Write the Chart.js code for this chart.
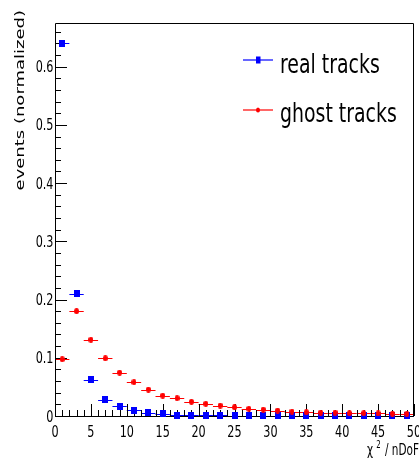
<!DOCTYPE html>
<html>
<head>
<meta charset="utf-8">
<script src="https://cdn.jsdelivr.net/npm/chart.js@4/dist/chart.umd.min.js"></script>
<style>
  html, body { margin: 0; padding: 0; background: #fff; }
  canvas { display: block; }
</style>
</head>
<body>
<canvas id="chart" width="419" height="459" style="width:419px;height:459px"></canvas>
<script>
// Histogram bins (chi2/nDoF), bin width 2
const binCenters = [1, 3, 5, 7, 9, 11, 13, 15, 17, 19, 21, 23, 25, 27, 29, 31, 33, 35, 37, 39, 41, 43, 45, 47, 49];
const binHalfWidth = 1;

// Normalized event fractions per bin
const realTracks = [0.640, 0.210, 0.0626, 0.0283, 0.0168, 0.0100, 0.0055, 0.0038, 0.0014, 0.0015, 0.0010, 0.0010, 0.0008,
                    0.0008, 0.0007, 0.0007, 0.0006, 0.0004, 0.0004, 0.0003, 0.0003, 0.0003, 0.0002, 0.0002, 0.0002];
const ghostTracks = [0.0974, 0.180, 0.131, 0.099, 0.0746, 0.058, 0.0455, 0.035, 0.0305, 0.0244, 0.021, 0.018, 0.015,
                     0.0124, 0.011, 0.0094, 0.0077, 0.0065, 0.006, 0.006, 0.0048, 0.0048, 0.0043, 0.0038, 0.0038];

// Axis tick values
const xMajorTicks = [0, 5, 10, 15, 20, 25, 30, 35, 40, 45, 50];
const yMajorTicks = [0, 0.1, 0.2, 0.3, 0.4, 0.5, 0.6];

const seriesNames = ['real tracks', 'ghost tracks'];
const axisTitleY = 'events (normalized)';

const BLUE = '#0000ff';
const RED = '#ff0000';
const FONT = "'DejaVu Sans', sans-serif";
const SQUEEZE = 0.7;   // horizontal compression of all lettering

function toPoints(values) {
  return binCenters.map((x, i) => ({ x: x, y: values[i] }));
}

// Small marker sprites (slightly taller than wide)
function makeMarker(kind, color, w, h) {
  const c = document.createElement('canvas');
  c.width = w; c.height = h;
  const g = c.getContext('2d');
  g.fillStyle = color;
  if (kind === 'rect') {
    g.fillRect(0, 0, w, h);
  } else {
    g.beginPath();
    g.ellipse(w / 2, h / 2, w / 2, h / 2, 0, 0, Math.PI * 2);
    g.fill();
  }
  return c;
}
const blueSquare = makeMarker('rect', BLUE, 6, 7);
const redDot = makeMarker('circle', RED, 5, 6);

function squeezedText(ctx, text, x, y, size, align, baseline) {
  ctx.save();
  ctx.translate(x, y);
  ctx.scale(SQUEEZE, 1);
  ctx.font = size + 'px ' + FONT;
  ctx.textAlign = align;
  ctx.textBaseline = baseline || 'alphabetic';
  ctx.fillText(text, 0, 0);
  const w = ctx.measureText(text).width * SQUEEZE;
  ctx.restore();
  return w;
}

// Horizontal bin-width bars behind each marker
const binBars = {
  id: 'binBars',
  beforeDatasetsDraw(chart) {
    const ctx = chart.ctx;
    const xs = chart.scales.x, ys = chart.scales.y;
    ctx.save();
    ctx.lineWidth = 1;
    chart.data.datasets.forEach(ds => {
      ctx.strokeStyle = ds.borderColor;
      ds.data.forEach(p => {
        const y = Math.round(ys.getPixelForValue(p.y)) + 0.5;
        ctx.beginPath();
        ctx.moveTo(xs.getPixelForValue(p.x - binHalfWidth), y);
        ctx.lineTo(xs.getPixelForValue(p.x + binHalfWidth), y);
        ctx.stroke();
      });
    });
    ctx.restore();
  }
};

// Frame, inward ticks, tick labels, axis titles and legend box
const frameDecor = {
  id: 'frameDecor',
  beforeDatasetsDraw(chart) {
    const ctx = chart.ctx;
    const a = chart.chartArea;
    const xs = chart.scales.x, ys = chart.scales.y;
    ctx.save();
    ctx.strokeStyle = '#000';
    ctx.lineWidth = 1;
    ctx.beginPath();
    ctx.moveTo(a.left + 0.5, a.bottom + 0.5);
    ctx.lineTo(a.left + 0.5, a.top + 0.5);
    ctx.lineTo(a.right - 0.5, a.top + 0.5);
    ctx.lineTo(a.right - 0.5, a.bottom + 0.5);
    ctx.lineTo(a.left + 0.5, a.bottom + 0.5);
    ctx.stroke();
    // x ticks: major every 5, minor every 1
    for (let v = xs.min; v <= xs.max; v += 1) {
      const px = Math.round(xs.getPixelForValue(v)) + 0.5;
      const len = (v % 5 === 0) ? 12 : 6;
      ctx.beginPath();
      ctx.moveTo(px, a.bottom);
      ctx.lineTo(px, a.bottom - len);
      ctx.stroke();
    }
    // y ticks: major every 0.1, minor every 0.02
    for (let k = 0; k * 0.02 <= ys.max + 1e-9; k++) {
      const py = Math.round(ys.getPixelForValue(k * 0.02)) + 0.5;
      const len = (k % 5 === 0) ? 12 : 6;
      ctx.beginPath();
      ctx.moveTo(a.left, py);
      ctx.lineTo(a.left + len, py);
      ctx.stroke();
    }
    ctx.restore();
  },
  afterDraw(chart) {
    const ctx = chart.ctx;
    const a = chart.chartArea;
    const xs = chart.scales.x, ys = chart.scales.y;
    ctx.save();
    ctx.fillStyle = '#000';

    // tick labels
    xs.ticks.forEach(t => {
      squeezedText(ctx, String(t.value), xs.getPixelForValue(t.value), 437, 16, 'center');
    });
    ys.ticks.forEach(t => {
      const label = t.value === 0 ? '0' : t.value.toFixed(1);
      squeezedText(ctx, label, a.left - 1.5, ys.getPixelForValue(t.value) + 5.5, 16, 'right');
    });

    // y axis title, rotated, aligned to the top
    ctx.save();
    ctx.translate(24, 10);
    ctx.scale(0.72, 1);
    ctx.rotate(-Math.PI / 2);
    ctx.font = '18px ' + FONT;
    ctx.textAlign = 'right';
    ctx.textBaseline = 'alphabetic';
    ctx.fillText(axisTitleY, 0, 0);
    ctx.restore();

    // x axis title: chi^2 / nDoF, right aligned
    const base = 455;
    let x = 419;
    x -= squeezedText(ctx, ' / nDoF', x, base, 15, 'right');
    x -= 1;
    x -= squeezedText(ctx, '2', x, base - 7, 10, 'right');
    x -= 3;
    squeezedText(ctx, '\u03C7', x, base, 15, 'right');

    // legend
    const entries = [
      { label: seriesNames[0], color: BLUE, marker: 'rect', y: 60, base: 72.5 },
      { label: seriesNames[1], color: RED, marker: 'circle', y: 110, base: 121.5 }
    ];
    entries.forEach(e => {
      ctx.strokeStyle = e.color;
      ctx.fillStyle = e.color;
      ctx.lineWidth = 1.2;
      ctx.beginPath();
      ctx.moveTo(243, e.y);
      ctx.lineTo(273, e.y);
      ctx.stroke();
      if (e.marker === 'rect') {
        ctx.fillRect(256, e.y - 3.5, 4.5, 7);
      } else {
        ctx.beginPath();
        ctx.ellipse(258, e.y, 2, 2.5, 0, 0, Math.PI * 2);
        ctx.fill();
      }
      ctx.fillStyle = '#000';
      squeezedText(ctx, e.label, 280, e.base, 27, 'left');
    });
    ctx.restore();
  }
};

new Chart(document.getElementById('chart'), {
  type: 'scatter',
  data: {
    datasets: [
      {
        label: seriesNames[0],
        data: toPoints(realTracks),
        backgroundColor: BLUE,
        borderColor: BLUE,
        pointStyle: blueSquare,
        pointRadius: 3.5,
        clip: false,
        order: 2
      },
      {
        label: seriesNames[1],
        data: toPoints(ghostTracks),
        backgroundColor: RED,
        borderColor: RED,
        pointStyle: redDot,
        pointRadius: 3,
        clip: false,
        order: 1
      }
    ]
  },
  options: {
    responsive: false,
    animation: false,
    devicePixelRatio: 1,
    layout: { padding: { top: 23, right: 2, left: 0, bottom: 0 } },
    plugins: {
      legend: { display: false },
      tooltip: { enabled: false }
    },
    scales: {
      x: {
        type: 'linear',
        min: 0,
        max: 50,
        grid: { display: false, drawTicks: false },
        border: { display: false },
        ticks: { display: false, stepSize: 5, includeBounds: false },
        afterBuildTicks(scale) {
          scale.ticks = xMajorTicks.map(v => ({ value: v }));
        },
        afterFit(scale) {
          scale.height = 43;
          scale.paddingLeft = 0;
          scale.paddingRight = 0;
        }
      },
      y: {
        type: 'linear',
        min: 0,
        max: 0.675,
        grid: { display: false, drawTicks: false },
        border: { display: false },
        ticks: { display: false, stepSize: 0.1, includeBounds: false },
        afterBuildTicks(scale) {
          scale.ticks = yMajorTicks.map(v => ({ value: v }));
        },
        afterFit(scale) {
          scale.width = 55;
          scale.paddingTop = 0;
          scale.paddingBottom = 0;
        }
      }
    }
  },
  plugins: [binBars, frameDecor]
});
</script>
</body>
</html>
